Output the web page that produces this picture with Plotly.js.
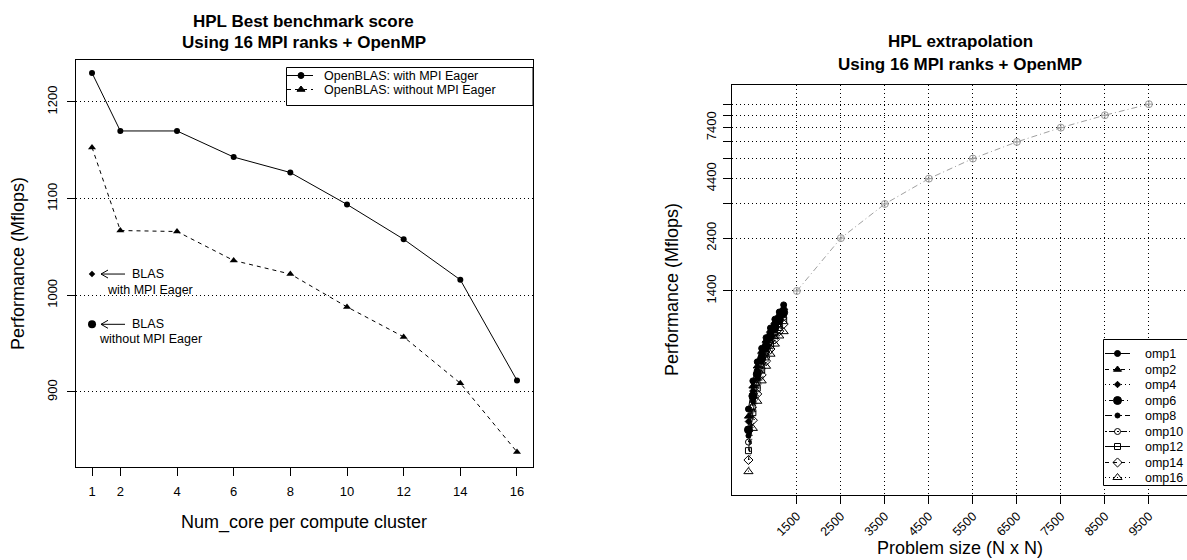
<!DOCTYPE html>
<html><head><meta charset="utf-8">
<script src="https://cdn.plot.ly/plotly-3.0.1.min.js"></script>
<style>html,body{margin:0;padding:0;background:#fff}#chart{width:1187px;height:560px}</style>
</head><body><div id="chart"></div>
<script>
// ---- Left chart data ----
const cores = [1, 2, 4, 6, 8, 10, 12, 14, 16];
const withEager = [1230, 1170, 1170, 1143, 1127, 1094, 1058, 1016, 912];
const withoutEager = [1153, 1067, 1066, 1036, 1022, 988, 957, 909, 838];
const blasCore = [1];
const blasWithEager = [1022];
const blasWithoutEager = [970];
const leftYTicks = [900, 1000, 1100, 1200];

// ---- Right chart data ----
const probN = [400, 500, 600, 700, 800, 900, 1000, 1100, 1200];
const omp1  = [420, 560, 680, 780, 870, 960, 1050, 1130, 1215];
const omp2  = [390, 530, 650, 755, 845, 935, 1020, 1100, 1180];
const omp4  = [370, 505, 625, 730, 820, 910, 995, 1075, 1150];
const omp6  = [340, 480, 600, 705, 795, 885, 970, 1050, 1125];
const omp8  = [320, 455, 575, 680, 770, 860, 945, 1025, 1100];
const omp10 = [300, 430, 550, 655, 745, 835, 920, 1000, 1070];
const omp12 = [275, 405, 520, 625, 715, 805, 890, 965, 1035];
const omp14 = [250, 375, 490, 595, 685, 775, 855, 930, 1000];
const omp16 = [222, 345, 455, 560, 650, 735, 815, 885, 925];
const extraN = [1500, 2500, 3500, 4500, 5500, 6500, 7500, 8500, 9500];
const extraPerf = [1400, 2400, 3400, 4400, 5400, 6400, 7400, 8400, 9400];
const rightYTicks = [1400, 2400, 3400, 4400, 5400, 6400, 7400, 8400, 9400];
const rightYLabels = ['1400', '2400', '', '4400', '', '', '7400', '', ''];
const rightXTicks = [1500, 2500, 3500, 4500, 5500, 6500, 7500, 8500, 9500];

// R line types
const LTY = {solid: 'solid', dashed: '4px,4px', dotted: '1px,3px', dotdash: '1px,3px,4px,3px', longdash: '7px,3px', twodash: '2px,2px,6px,2px'};

const leftSeries = [
  ['OpenBLAS: with MPI Eager', withEager, LTY.solid, 'circle', 6],
  ['OpenBLAS: without MPI Eager', withoutEager, LTY.dashed, 'triangle-up', 7]
];
const ompSeries = [
  ['omp1', omp1, LTY.solid, 'circle', 6],
  ['omp2', omp2, LTY.dashed, 'triangle-up', 7],
  ['omp4', omp4, LTY.dotted, 'diamond', 5],
  ['omp6', omp6, LTY.dotdash, 'circle', 8],
  ['omp8', omp8, LTY.longdash, 'circle', 5],
  ['omp10', omp10, LTY.twodash, 'circle-open', 6],
  ['omp12', omp12, LTY.solid, 'square-open', 6],
  ['omp14', omp14, LTY.dashed, 'diamond-open', 7],
  ['omp16', omp16, LTY.dotted, 'triangle-up-open', 8]
];

const traces = [];
leftSeries.forEach(s => {
  traces.push({x: cores, y: s[1], type: 'scatter', mode: 'lines+markers', name: s[0], showlegend: false,
    line: {color: 'black', width: 1, dash: s[2]}, marker: {symbol: s[3], size: s[4], color: 'black'}, xaxis: 'x', yaxis: 'y'});
});
traces.push({x: blasCore, y: blasWithEager, type: 'scatter', mode: 'markers', showlegend: false,
  marker: {symbol: 'diamond', size: 5, color: 'black'}, xaxis: 'x', yaxis: 'y'});
traces.push({x: blasCore, y: blasWithoutEager, type: 'scatter', mode: 'markers', showlegend: false,
  marker: {symbol: 'circle', size: 8, color: 'black'}, xaxis: 'x', yaxis: 'y'});

ompSeries.forEach(s => {
  traces.push({x: probN, y: s[1], type: 'scatter', mode: 'lines+markers', name: s[0], showlegend: false,
    line: {color: 'black', width: 1, dash: s[2]}, marker: {symbol: s[3], size: s[4], color: 'black', line: {color: 'black', width: 1}},
    xaxis: 'x2', yaxis: 'y2'});
});
traces.push({x: extraN, y: extraPerf, type: 'scatter', mode: 'lines+markers', showlegend: false,
  line: {color: '#a0a0a0', width: 1, dash: '6px,3px,1px,3px'},
  marker: {symbol: 'circle-cross-open', size: 7, color: '#999999', line: {color: '#999999', width: 1}},
  xaxis: 'x2', yaxis: 'y2'});

const W = 1187, H = 560;
const px = v => v / W, py = v => 1 - v / H;
const ff = 'Liberation Sans, Arial, sans-serif';

// Custom R-style legend boxes, each drawn on its own hidden axis pair in pixel units
const legendShapes = [], legendAnns = [], extraAxes = {};
function buildLegend(series, ax, box, rows, sample, textX, fontSize) {
  const [left, top, right, bottom] = box;
  extraAxes['xaxis' + ax] = {domain: [px(left), Math.min(1, px(right))], range: [0, Math.min(right, W) - left], visible: false, fixedrange: true, anchor: 'y' + ax};
  extraAxes['yaxis' + ax] = {domain: [py(bottom), py(top)], range: [bottom - top, 0], visible: false, fixedrange: true, anchor: 'x' + ax};
  series.forEach((s, i) => {
    const yy = rows[0] + Math.round(i * rows[1]);
    traces.push({x: [sample[0], sample[1], sample[2]], y: [yy, yy, yy], type: 'scatter', mode: 'lines', showlegend: false, hoverinfo: 'skip',
      line: {color: 'black', width: 1, dash: s[2]}, xaxis: 'x' + ax, yaxis: 'y' + ax});
    traces.push({x: [sample[1]], y: [yy], type: 'scatter', mode: 'markers', showlegend: false, hoverinfo: 'skip',
      marker: {symbol: s[3], size: s[4], color: 'black', line: {color: 'black', width: 1}}, xaxis: 'x' + ax, yaxis: 'y' + ax});
    legendAnns.push({text: s[0], xref: 'x' + ax, yref: 'y' + ax, x: textX, y: yy, xanchor: 'left', yanchor: 'middle', showarrow: false, font: {size: fontSize}});
  });
  legendShapes.push({type: 'rect', xref: 'paper', yref: 'paper', x0: px(left + 0.5), x1: px(right), y0: py(bottom - 0.5), y1: py(top + 0.5),
    line: {color: 'black', width: 1}, fillcolor: 'rgba(0,0,0,0)', layer: 'above'});
}
buildLegend(leftSeries, 3, [286, 67, 533, 106], [8.5, 14], [1, 15, 27], 36, 12.5);
buildLegend(ompSeries, 4, [1103, 339, 1200, 486], [14.5, 15.5], [2, 14.5, 27], 40, 12.5);

function arrowShape(x, y) {
  return {type: 'path', xref: 'x', yref: 'y', xsizemode: 'pixel', ysizemode: 'pixel', xanchor: x, yanchor: y,
    path: 'M 9,0 L 33,0 M 9,0 L 16,4 M 9,0 L 16,-4', line: {color: 'black', width: 1}};
}
function ann(text, x, y, size, extra) {
  return Object.assign({text: text, xref: 'paper', yref: 'paper', x: px(x), y: py(y), xanchor: 'center', yanchor: 'middle',
    showarrow: false, font: {size: size}}, extra || {});
}

const layout = Object.assign({
  width: W, height: H, margin: {l: 0, r: 0, t: 0, b: 0},
  paper_bgcolor: 'white', plot_bgcolor: 'white',
  font: {family: ff, size: 13, color: 'black'},
  showlegend: false,
  xaxis: {domain: [px(76), px(533)], range: [0.435, 16.565], tickvals: cores, ticks: 'outside', ticklen: 8,
    tickcolor: 'black', showgrid: false, zeroline: false, showline: true, mirror: true, linecolor: 'black', linewidth: 1,
    anchor: 'y', tickfont: {size: 13}, ticklabelstandoff: 4},
  yaxis: {domain: [1 - 467 / H, 1 - 60 / H], range: [822.4, 1243.4], tickvals: leftYTicks, tickangle: -90,
    ticks: 'outside', ticklen: 8, tickcolor: 'black', showgrid: true, gridcolor: 'black', griddash: LTY.dotted, gridwidth: 1,
    zeroline: false, showline: true, mirror: true, linecolor: 'black', linewidth: 1, anchor: 'x', tickfont: {size: 13},
    ticklabelstandoff: 5},
  xaxis2: {domain: [px(732), 1], range: [26, 10366], tickvals: rightXTicks, tickangle: -45, ticks: 'outside', ticklen: 8,
    tickcolor: 'black', showgrid: true, gridcolor: 'black', griddash: LTY.dotted, zeroline: false, showline: true, mirror: true,
    linecolor: 'black', linewidth: 1, anchor: 'y2', tickfont: {size: 12.5}},
  yaxis2: {type: 'log', domain: [1 - 495 / H, 1 - 85 / H], range: [2.243, 4.058], tickvals: rightYTicks, ticktext: rightYLabels,
    tickangle: -90, ticks: 'outside', ticklen: 8, tickcolor: 'black', showgrid: true, gridcolor: 'black', griddash: LTY.dotted,
    zeroline: false, showline: true, mirror: false, linecolor: 'black', linewidth: 1, anchor: 'x2', tickfont: {size: 13},
    ticklabelstandoff: 2},
  shapes: [arrowShape(blasCore[0], blasWithEager[0]), arrowShape(blasCore[0], blasWithoutEager[0])].concat(legendShapes),
  annotations: [
    ann('<b>HPL Best benchmark score</b>', 304, 22, 17),
    ann('<b>Using 16 MPI ranks + OpenMP</b>', 304, 43, 17),
    ann('<b>HPL extrapolation</b>', 960, 42, 17),
    ann('<b>Using 16 MPI ranks + OpenMP</b>', 960, 64, 17),
    ann('Num_core per compute cluster', 304, 522, 18),
    ann('Performance (Mflops)', 18, 264, 18, {textangle: -90}),
    ann('Problem size (N x N)', 960, 548, 18),
    ann('Performance (Mflops)', 672, 290, 18, {textangle: -90}),
    {text: 'BLAS', xref: 'x', yref: 'y', x: blasCore[0], y: blasWithEager[0], xanchor: 'left', yanchor: 'middle', xshift: 38, showarrow: false, font: {size: 12.5}},
    {text: 'with MPI Eager', xref: 'x', yref: 'y', x: blasCore[0], y: blasWithEager[0], xanchor: 'center', yanchor: 'middle', xshift: 58, yshift: -16, showarrow: false, font: {size: 12.5}},
    {text: 'BLAS', xref: 'x', yref: 'y', x: blasCore[0], y: blasWithoutEager[0], xanchor: 'left', yanchor: 'middle', xshift: 38, showarrow: false, font: {size: 12.5}},
    {text: 'without MPI Eager', xref: 'x', yref: 'y', x: blasCore[0], y: blasWithoutEager[0], xanchor: 'center', yanchor: 'middle', xshift: 58, yshift: -15, showarrow: false, font: {size: 12.5}}
  ].concat(legendAnns)
}, extraAxes);

Plotly.newPlot('chart', traces, layout, {displayModeBar: false, staticPlot: true});
</script></body></html>
